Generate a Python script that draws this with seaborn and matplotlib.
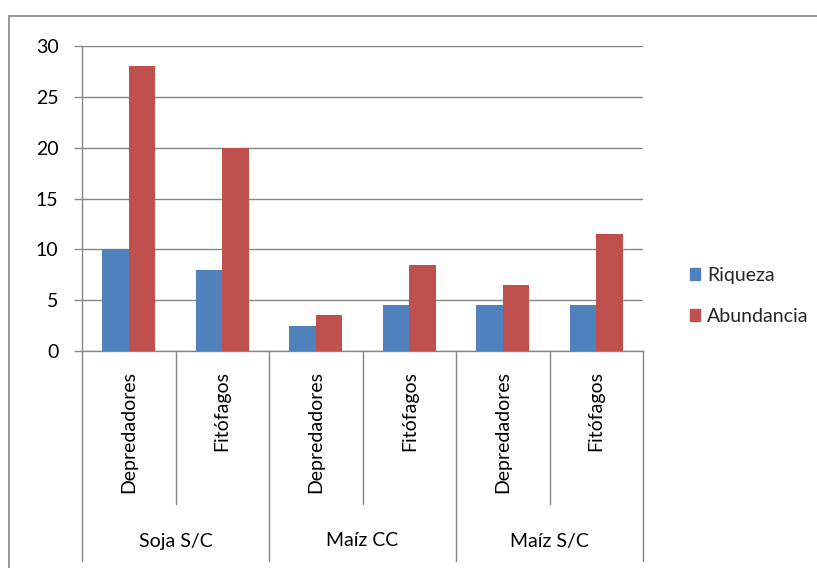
import matplotlib
matplotlib.use("Agg")
import matplotlib.pyplot as plt
from matplotlib.lines import Line2D
import matplotlib.transforms as mtransforms
import seaborn as sns
import pandas as pd

# Chart data
groups = ["Soja S/C", "Maíz CC", "Maíz S/C"]
subgroups = ["Depredadores", "Fitófagos"]
series = ["Riqueza", "Abundancia"]
riqueza = [10, 8, 2.5, 4.5, 4.5, 4.5]
abundancia = [28, 20, 3.5, 8.5, 6.5, 11.5]
yticks = [0, 5, 10, 15, 20, 25, 30]

keys = [f"{g}|{s}" for g in groups for s in subgroups]
rows = []
for k, r, a in zip(keys, riqueza, abundancia):
    rows.append({"cat": k, "serie": "Riqueza", "valor": r})
    rows.append({"cat": k, "serie": "Abundancia", "valor": a})
df = pd.DataFrame(rows)

sns.set_theme(style="white")
plt.rcParams["font.family"] = ["Lato", "DejaVu Sans"]
FS = 14

W, H = 817, 568
fig = plt.figure(figsize=(W / 100, H / 100), dpi=100)
ax = fig.add_axes([82 / W, 1 - 351 / H, (643 - 82) / W, (351 - 46) / H])

grid_c = "#868686"
palette = {"Riqueza": "#4F81BD", "Abundancia": "#C0504D"}
sns.barplot(data=df, x="cat", y="valor", hue="serie", order=keys,
            hue_order=series, palette=palette, width=0.567, gap=0,
            linewidth=0, saturation=1, ax=ax, legend=False, zorder=3)

ax.set_ylim(0, 30)
ax.set_xlim(-0.5, len(keys) - 0.5)
ax.set_yticks(yticks)
ax.set_yticklabels([str(v) for v in yticks], fontsize=FS, color="black")
ax.yaxis.grid(True, color=grid_c, linewidth=1.0, zorder=0)
ax.set_axisbelow(True)
ax.tick_params(axis="y", length=6, width=1.0, color=grid_c, pad=11, left=True)
ax.set_xlabel("")
ax.set_ylabel("")
for side in ("top", "right"):
    ax.spines[side].set_visible(False)
for side in ("left", "bottom"):
    ax.spines[side].set_color(grid_c)
    ax.spines[side].set_linewidth(1.0)

# Multi-level category axis
ax.set_xticks(range(len(keys)))
ax.set_xticklabels([])
ax.tick_params(axis="x", length=0, bottom=False)
trans = mtransforms.blended_transform_factory(ax.transData, fig.transFigure)
y_axis = 1 - 351 / H
y_sub = 1 - 504 / H
y_grp = 1 - 561 / H
for i, k in enumerate(keys):
    sub = k.split("|")[1]
    ax.text(i, 1 - 371 / H, sub, rotation=90, ha="center", va="top",
            fontsize=FS, transform=trans, color="black")
for b in range(len(keys) + 1):
    x = b - 0.5
    bottom = y_grp if b % len(subgroups) == 0 else y_sub
    ax.add_line(Line2D([x, x], [y_axis, bottom], transform=trans,
                       color=grid_c, linewidth=1.0, clip_on=False))
for gi, g in enumerate(groups):
    center = gi * len(subgroups) + (len(subgroups) - 1) / 2
    ax.text(center, 1 - 541 / H, g, ha="center", va="center",
            fontsize=FS, transform=trans, color="black")

# Legend
handles = [plt.Rectangle((0, 0), 1, 1, color=palette[s]) for s in series]
fig.legend(handles, series, loc="center left",
           bbox_to_anchor=(672 / W, 1 - 296 / H), frameon=False,
           fontsize=FS, handlelength=0.55, handleheight=0.55,
           handletextpad=0.35, labelspacing=1.25)

# Chart area border
fig.add_artist(Line2D([9 / W, 1], [1 - 16 / H, 1 - 16 / H],
                      transform=fig.transFigure, color=grid_c, linewidth=1.2))
fig.add_artist(Line2D([9 / W, 9 / W], [1 - 16 / H, 0],
                      transform=fig.transFigure, color=grid_c, linewidth=1.2))

fig.savefig("out.png", dpi=100, facecolor="white")
